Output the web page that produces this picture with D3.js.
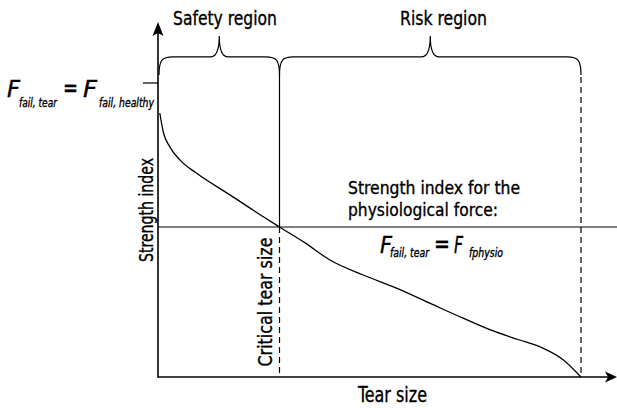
<!DOCTYPE html>
<html>
<head>
<meta charset="utf-8">
<script src="https://cdn.jsdelivr.net/npm/d3@7"></script>
<style>
  html, body { margin: 0; padding: 0; background: #fff; }
  svg text { font-family: "DejaVu Sans Condensed", "Liberation Sans Narrow", sans-serif; fill: #000; stroke: #000; stroke-width: 0.35; }
</style>
</head>
<body>
<svg id="chart" width="617" height="408"></svg>
<script>
// ---- data (abstract units: tear size 0..100, strength index 0..100) ----
const tearSize     = [0.4, 1.2, 2.6, 4.9, 8.6, 16.0, 23.4, 27.0, 32.7, 38.2, 45.6, 53.0, 60.4, 67.8, 74.0, 80.0, 85.0, 90.1, 94.0];
const strengthIdx  = [88.0, 81.5, 76.8, 72.3, 67.9, 60.7, 53.4, 50.0, 44.7, 39.0, 34.0, 29.6, 24.6, 19.6, 15.6, 12.5, 10.0, 5.7, 0.0];
const criticalTear = 27;     // critical tear size
const maxTear      = 94;     // largest tear (strength reaches 0)
const physioLevel  = 50;     // strength index for physiological force
const healthyLevel = 98;     // F_fail,tear = F_fail,healthy
const regionNames  = ["Safety region", "Risk region"];
const axisLabels   = { x: "Tear size", y: "Strength index" };
const physioNote   = ["Strength index for the", "physiological force:"];

const svg = d3.select("#chart");
const x = d3.scaleLinear().domain([0, 100]).range([158, 608]);
const y = d3.scaleLinear().domain([0, 100]).range([377, 77]);

const x0 = x(0), y0 = y(0);
const ink = "#000";

// axes
svg.append("line").attr("x1", x0).attr("y1", y0).attr("x2", 612).attr("y2", y0)
  .attr("stroke", ink).attr("stroke-width", 1.6);
svg.append("line").attr("x1", x0).attr("y1", y0 + 0.8).attr("x2", x0).attr("y2", 28)
  .attr("stroke", ink).attr("stroke-width", 1.6);
// arrowheads
svg.append("path").attr("d", `M617,${y0} L605,${y0-5.5} L608,${y0} L605,${y0+5.5} Z`).attr("fill", ink);
svg.append("path").attr("d", `M${x0},22 L${x0-5.5},36 L${x0},33 L${x0+5.5},36 Z`).attr("fill", ink);

// healthy tick
svg.append("line").attr("x1", 143).attr("x2", x0).attr("y1", y(healthyLevel)).attr("y2", y(healthyLevel))
  .attr("stroke", ink).attr("stroke-width", 1.2);

// physiological level line
svg.append("line").attr("x1", x0).attr("x2", 617).attr("y1", y(physioLevel)).attr("y2", y(physioLevel))
  .attr("stroke", ink).attr("stroke-width", 1.2);

// critical tear vertical: solid above physio line, dashed below
const braceEnd = y(100.7), braceTop = y(106.7), braceTip = y(113.7);
svg.append("line").attr("x1", x(criticalTear)).attr("x2", x(criticalTear))
  .attr("y1", braceEnd).attr("y2", y(physioLevel)).attr("stroke", ink).attr("stroke-width", 1.2);
svg.append("line").attr("x1", x(criticalTear)).attr("x2", x(criticalTear))
  .attr("y1", y(physioLevel)).attr("y2", y0).attr("stroke", ink).attr("stroke-width", 1.2)
  .attr("stroke-dasharray", "6,4");
// max tear vertical dashed
svg.append("line").attr("x1", x(maxTear)).attr("x2", x(maxTear))
  .attr("y1", braceEnd + 2).attr("y2", y0).attr("stroke", ink).attr("stroke-width", 1.2)
  .attr("stroke-dasharray", "6,4");

// curve
const pts = tearSize.map((t, i) => [x(t), y(strengthIdx[i])]);
svg.append("path").attr("d", d3.line().curve(d3.curveMonotoneX)(pts))
  .attr("fill", "none").attr("stroke", ink).attr("stroke-width", 1.3);

// braces
function brace(xa, xb) {
  const mid = (xa + xb) / 2, r = 14, rt = 9;
  return `M${xa},${braceEnd} C${xa},${braceTop+3} ${xa+3},${braceTop} ${xa+r},${braceTop}` +
         ` L${mid-rt},${braceTop} C${mid-3},${braceTop} ${mid},${braceTop-6} ${mid},${braceTip}` +
         ` C${mid},${braceTop-6} ${mid+3},${braceTop} ${mid+rt},${braceTop}` +
         ` L${xb-r},${braceTop} C${xb-3},${braceTop} ${xb},${braceTop+3} ${xb},${braceEnd}`;
}
const braceX = [[x(0) + 1, x(criticalTear)], [x(criticalTear), x(maxTear)]];
braceX.forEach(([a, b]) => {
  svg.append("path").attr("d", brace(a, b)).attr("fill", "none").attr("stroke", ink).attr("stroke-width", 1.2);
});

// region labels
svg.append("text").text(regionNames[0]).attr("x", 173).attr("y", 25)
  .attr("font-size", 20).attr("textLength", 104).attr("lengthAdjust", "spacingAndGlyphs");
svg.append("text").text(regionNames[1]).attr("x", 400).attr("y", 25)
  .attr("font-size", 20).attr("textLength", 87).attr("lengthAdjust", "spacingAndGlyphs");

// axis labels
svg.append("text").text(axisLabels.x).attr("x", 358).attr("y", 402)
  .attr("font-size", 21).attr("textLength", 69).attr("lengthAdjust", "spacingAndGlyphs");
svg.append("text").text(axisLabels.y).attr("transform", "translate(153,210) rotate(-90)")
  .attr("text-anchor", "middle").attr("font-size", 20).attr("textLength", 104).attr("lengthAdjust", "spacingAndGlyphs");
svg.append("text").text("Critical tear size").attr("transform", "translate(272,302) rotate(-90)")
  .attr("text-anchor", "middle").attr("font-size", 20).attr("textLength", 129).attr("lengthAdjust", "spacingAndGlyphs");

// physio annotation (two lines)
svg.append("text").text(physioNote[0]).attr("x", 348).attr("y", 194).attr("font-size", 18.5)
  .attr("textLength", 172).attr("lengthAdjust", "spacingAndGlyphs");
svg.append("text").text(physioNote[1]).attr("x", 348).attr("y", 216).attr("font-size", 18.5)
  .attr("textLength", 150).attr("lengthAdjust", "spacingAndGlyphs");

// formulas
function formula(parts) {
  parts.forEach(p => {
    const t = svg.append("text").text(p.t).attr("x", p.x).attr("y", p.y)
      .attr("font-size", p.s).attr("font-style", p.i ? "italic" : "normal");
    if (p.w) t.attr("textLength", p.w).attr("lengthAdjust", "spacingAndGlyphs");
  });
}
formula([
  { t: "F", x: 7, y: 97, s: 23, i: true, w: 13 },
  { t: "fail, tear", x: 19, y: 107, s: 12, i: true, w: 38 },
  { t: "=", x: 63, y: 97, s: 26, w: 15 },
  { t: "F", x: 83, y: 97, s: 23, i: true, w: 14 },
  { t: "fail, healthy", x: 99, y: 107, s: 12, i: true, w: 55 }
]);
formula([
  { t: "F", x: 380, y: 253, s: 23, i: true, w: 12 },
  { t: "fail, tear", x: 390, y: 257, s: 12, i: true, w: 39 },
  { t: "=", x: 434, y: 253, s: 26, w: 16 },
  { t: "F", x: 454, y: 253, s: 23, i: true, w: 9 },
  { t: "fphysio", x: 469, y: 257, s: 12, i: true, w: 34 }
]);
</script>
</body>
</html>
